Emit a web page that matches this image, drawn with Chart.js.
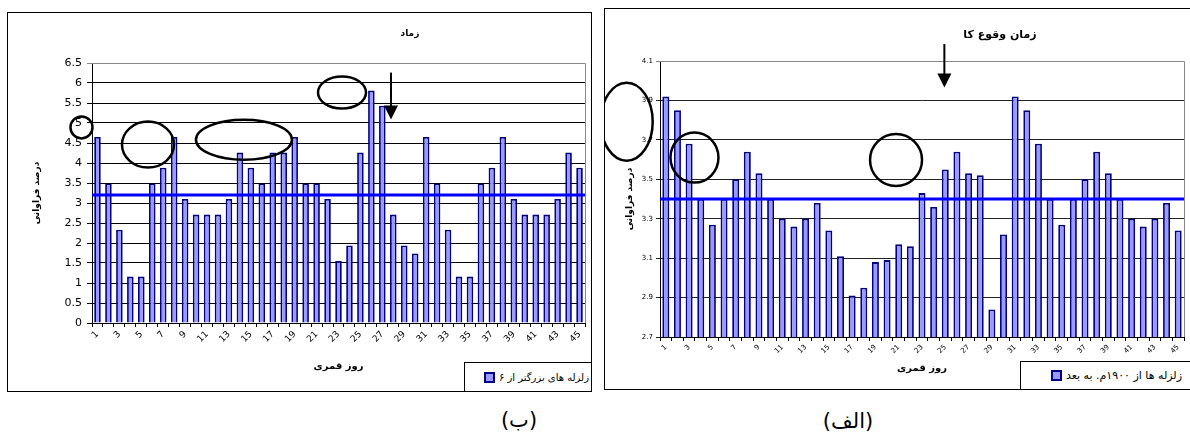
<!DOCTYPE html>
<html>
<head>
<meta charset="utf-8">
<script src="https://cdn.jsdelivr.net/npm/chart.js@4.4.0/dist/chart.umd.min.js"></script>
<style>
body { margin:0; width:1190px; height:435px; background:#fff; position:relative; overflow:hidden; font-family:"DejaVu Sans", sans-serif; }
.box { position:absolute; border:1px solid #000; box-sizing:border-box; }
canvas { position:absolute; }
.ttl { position:absolute; font-weight:bold; transform:translate(-50%,-50%); white-space:nowrap; direction:rtl; }
.legend { position:absolute; border:1px solid #000; box-sizing:border-box; background:#fff; direction:rtl; display:flex; align-items:center; white-space:nowrap; }
.sw { display:inline-block; width:7px; height:7px; background:#9999ff; border:2px solid #000080; margin-right:4px; }
.cap { position:absolute; font-size:21px; transform:translate(-50%,-50%); direction:rtl; white-space:nowrap; }
</style>
</head>
<body>
<div class="box" style="left:7px;top:12px;width:585px;height:380px"></div>
<canvas id="chartB" width="583" height="378" style="left:8px;top:13px"></canvas>
<div class="ttl" style="left:410px;top:33px;font-size:9px">زماد</div>
<div class="legend" style="left:464px;top:362px;width:128px;height:30px;font-size:10px;padding-right:2px">
  <span>زلزله های بزرگتر از ۶</span><span class="sw"></span>
</div>

<div class="box" style="left:604px;top:8px;width:600px;height:382px"></div>
<canvas id="chartA" width="585" height="380" style="left:605px;top:9px"></canvas>
<div class="ttl" style="left:1000px;top:34px;font-size:11px">زمان وقوع کا</div>
<div class="legend" style="left:1020px;top:361px;width:190px;height:29px;font-size:11px;padding-right:27px">
  <span>زلزله ها از ۱۹۰۰م. به بعد</span><span class="sw"></span>
</div>

<div class="cap" style="left:519px;top:420px">(ب)</div>
<div class="cap" style="left:848px;top:421px">(الف)</div>

<script>
// lunar days
const days = ['1','2','3','4','5','6','7','8','9','10','11','12','13','14','15',
  '16','17','18','19','20','21','22','23','24','25','26','27','28','29','30',
  '31','32','33','34','35','36','37','38','39','40','41','42','43','44','45'];

// (ب) quakes bigger than 6, percent per lunar day
const quakesOver6 = [4.65, 3.49, 2.33, 1.16, 1.16, 3.49, 3.88, 4.65, 3.10, 2.71,
  2.71, 2.71, 3.10, 4.26, 3.88, 3.49, 4.26, 4.26, 4.65, 3.49,
  3.49, 3.10, 1.55, 1.94, 4.26, 5.81, 5.43, 2.71, 1.94, 1.74,
  4.65, 3.49, 2.33, 1.16, 1.16, 3.49, 3.88, 4.65, 3.10, 2.71,
  2.71, 2.71, 3.10, 4.26, 3.88];
const meanOver6 = 3.2;

// (الف) quakes since 1900
const quakesSince1900 = [3.92, 3.85, 3.68, 3.40, 3.27, 3.40, 3.50, 3.64, 3.53, 3.40,
  3.30, 3.26, 3.30, 3.38, 3.24, 3.11, 2.91, 2.95, 3.08, 3.09,
  3.17, 3.16, 3.43, 3.36, 3.55, 3.64, 3.53, 3.52, 2.84, 3.22,
  3.92, 3.85, 3.68, 3.40, 3.27, 3.40, 3.50, 3.64, 3.53, 3.40,
  3.30, 3.26, 3.30, 3.38, 3.24];
const meanSince1900 = 3.4;

// hand drawn marks, centres in data units (day index, value)
const marksB = [
  {type: 'ellipse', x: -1.46, y: 4.89, rx: 11, ry: 11},
  {type: 'ellipse', x: 4.61, y: 4.46, rx: 26, ry: 23},
  {type: 'ellipse', x: 13.37, y: 4.58, rx: 48, ry: 20},
  {type: 'ellipse', x: 22.32, y: 5.76, rx: 24, ry: 16},
  {type: 'arrow', x: 26.79, y1: 6.26, y2: 5.09}
];
const marksA = [
  {type: 'ellipse', x: -3.36, y: 3.792, rx: 26, ry: 39},
  {type: 'ellipse', x: 2.46, y: 3.61, rx: 24, ry: 25},
  {type: 'ellipse', x: 19.77, y: 3.598, rx: 26, ry: 26},
  {type: 'arrow', x: 23.92, y1: 4.186, y2: 3.966}
];

Chart.defaults.font.family = '"DejaVu Sans", sans-serif';
Chart.defaults.color = '#000';

var meanLine = {
  id: 'meanLine',
  afterDatasetsDraw: function(chart, args, opts) {
    var y = chart.scales.y.getPixelForValue(opts.value);
    var ctx = chart.ctx, a = chart.chartArea;
    ctx.save();
    ctx.strokeStyle = '#0000ff';
    ctx.lineWidth = 3;
    ctx.beginPath();
    ctx.moveTo(a.left, y);
    ctx.lineTo(a.right, y);
    ctx.stroke();
    ctx.restore();
  }
};

var plotFrame = {
  id: 'plotFrame',
  afterDraw: function(chart) {
    var ctx = chart.ctx, a = chart.chartArea;
    ctx.save();
    ctx.strokeStyle = '#888';
    ctx.lineWidth = 1;
    ctx.beginPath();
    ctx.moveTo(a.left, a.top + 0.5);
    ctx.lineTo(a.right + 0.5, a.top + 0.5);
    ctx.lineTo(a.right + 0.5, a.bottom);
    ctx.stroke();
    ctx.restore();
  }
};

var marks = {
  id: 'marks',
  afterDraw: function(chart, args, opts) {
    var ctx = chart.ctx, xs = chart.scales.x, ys = chart.scales.y;
    ctx.save();
    ctx.strokeStyle = '#000';
    ctx.fillStyle = '#000';
    opts.items.forEach(function(m) {
      var x = xs.getPixelForValue(m.x);
      if (m.type === 'ellipse') {
        ctx.lineWidth = 2.5;
        ctx.beginPath();
        ctx.ellipse(x, ys.getPixelForValue(m.y), m.rx, m.ry, 0, 0, Math.PI * 2);
        ctx.stroke();
      } else {
        var y1 = ys.getPixelForValue(m.y1), y2 = ys.getPixelForValue(m.y2);
        ctx.lineWidth = 2;
        ctx.beginPath();
        ctx.moveTo(x, y1);
        ctx.lineTo(x, y2 - 12);
        ctx.stroke();
        ctx.beginPath();
        ctx.moveTo(x - 7, y2 - 14);
        ctx.lineTo(x + 7, y2 - 14);
        ctx.lineTo(x, y2);
        ctx.closePath();
        ctx.fill();
      }
    });
    ctx.restore();
  }
};

function makeChart(id, o) {
  return new Chart(document.getElementById(id), {
    type: 'bar',
    data: {
      labels: days,
      datasets: [{
        label: o.label,
        data: o.data,
        backgroundColor: '#9999ff',
        borderColor: '#000080',
        borderWidth: 1.8,
        barPercentage: 0.6,
        categoryPercentage: 1
      }]
    },
    options: {
      responsive: false,
      animation: false,
      layout: {padding: o.padding},
      plugins: {
        legend: {display: false},
        tooltip: {enabled: false},
        meanLine: {value: o.mean},
        marks: {items: o.marks}
      },
      scales: {
        x: {
          afterFit: function(s) { s.height = o.xHeight; },
          grid: {drawOnChartArea: false, drawTicks: true, tickLength: 4, color: '#000'},
          border: {color: '#000'},
          ticks: {
            autoSkip: false, minRotation: 45, maxRotation: 45,
            font: {size: o.xFont}, padding: 2,
            callback: function(v, i) { return i % 2 === 0 ? this.getLabelForValue(v) : ''; }
          },
          title: {display: true, text: 'روز قمری', font: {size: 10, weight: 'bold'}, padding: {bottom: o.xTitlePad}}
        },
        y: {
          min: o.min, max: o.max,
          afterFit: function(s) { s.width = o.yWidth; },
          grid: {
            color: function(c) { return c.tick && c.tick.value >= o.max - 1e-6 ? '#888' : o.gridColor; },
            tickLength: o.tickLen
          },
          border: {color: '#000'},
          ticks: {
            stepSize: o.step, font: {size: o.yFont}, padding: o.yPad,
            callback: function(v) { return o.fmt(v); }
          },
          title: {display: true, text: 'درصد فراوانی', font: {size: 9, weight: 'bold'}, padding: {top: o.yTitlePad}}
        }
      }
    },
    plugins: [meanLine, plotFrame, marks]
  });
}

makeChart('chartB', {
  label: 'زلزله های بزرگتر از ۶',
  data: quakesOver6, mean: meanOver6, marks: marksB,
  padding: {left: 0, right: 6, top: 50, bottom: 8},
  xHeight: 60, yWidth: 84, xFont: 9, yFont: 11, yPad: 5, tickLen: 5,
  xTitlePad: 11, yTitlePad: 23, min: 0, max: 6.5, step: 0.5,
  gridColor: '#000',
  fmt: function(v) { return String(Math.round(v * 10) / 10); }
});

makeChart('chartA', {
  label: 'زلزله ها از ۱۹۰۰م. به بعد',
  data: quakesSince1900, mean: meanSince1900, marks: marksA,
  padding: {left: 0, right: 6, top: 52, bottom: 0},
  xHeight: 52, yWidth: 55, xFont: 7, yFont: 7, yPad: 3, tickLen: 4,
  xTitlePad: 15, yTitlePad: 19, min: 2.7, max: 4.1, step: 0.2,
  gridColor: '#222',
  fmt: function(v) { return v.toFixed(1); }
});
</script>
</body>
</html>
